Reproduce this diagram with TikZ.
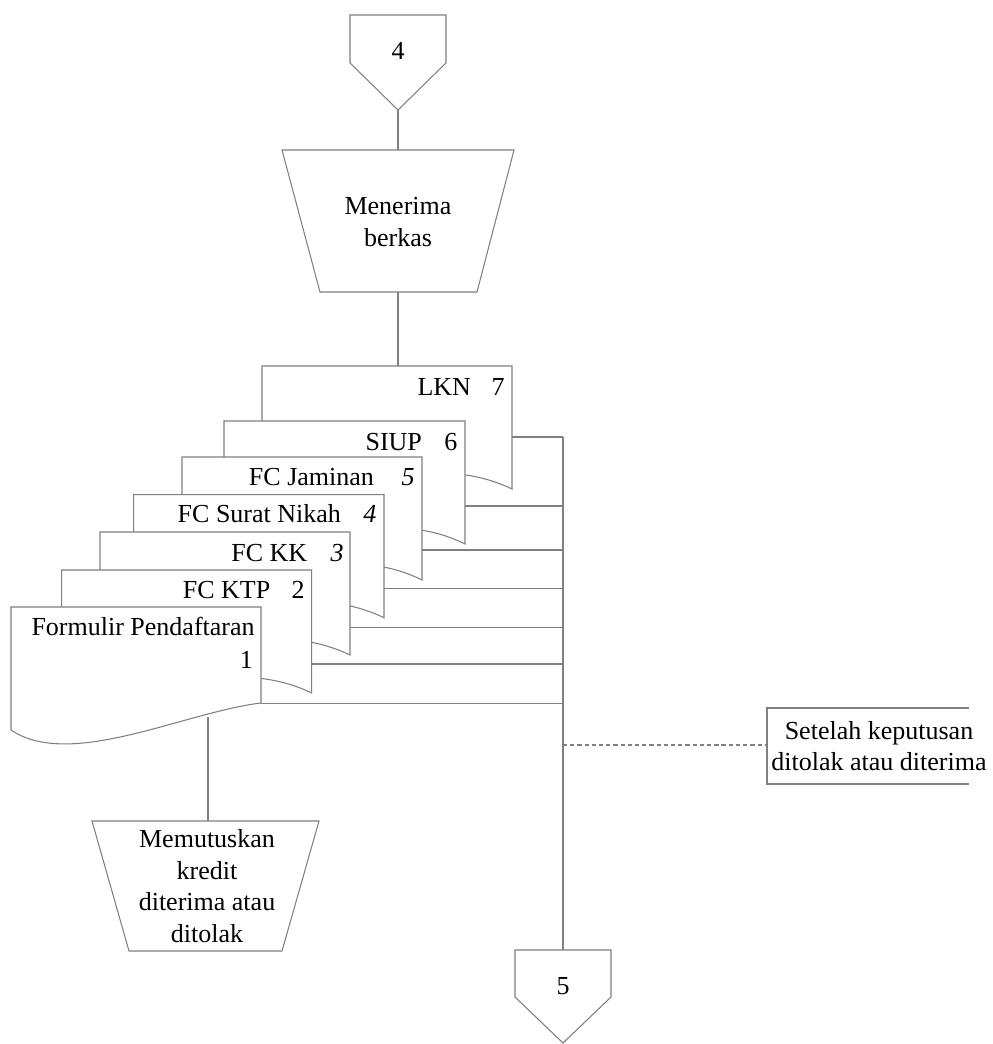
\documentclass[tikz,border=0pt]{standalone}
\usepackage{fontspec}
\setmainfont{Liberation Serif}
\usetikzlibrary{calc}
\definecolor{linegray}{RGB}{128,128,128}
% stacked document sheet: left x, top y, right x (bottom edge is a wave)
\newcommand\docsheet[3]{%
  \draw[sheet] (#1,#2) -- (#3,#2) -- (#3,#2+123)
    .. controls (#1+0.64*#3-0.64*#1,#2+80) and (#1+0.35*#3-0.35*#1,#2+143) ..
    (#1,#2+113) -- cycle;}
\begin{document}
\begin{tikzpicture}[x=0.02cm,y=-0.02cm,
  line/.style={draw=linegray,line width=0.6pt},
  sheet/.style={line,fill=white,line join=miter},
  txt/.style={font=\fontsize{14.8}{17.9}\selectfont,inner sep=0pt,text=black},
  notedash/.style={line,dash pattern=on 2.4pt off 1.7pt}]
\useasboundingbox (0,0) rectangle (992,1044);

% off-page connector 4
\draw[sheet] (350,15) -- (446,15) -- (446,63) -- (398,110) -- (350,63) -- cycle;
\node[txt] (c4) at (398,51) {4};
\coordinate (c4-bot) at (398,110);

% manual operation: receive files
\draw[sheet] (282,150) -- (514,150) -- (477,292) -- (320,292) -- cycle;
\node[txt,align=center] (op1) at (398,222) {Menerima\\berkas};
\coordinate (op1-top) at (398,150);
\coordinate (op1-bot) at (398,292);

% stacked documents, back to front
\docsheet{262}{366}{512}
\docsheet{224}{421}{465}
\docsheet{182}{457}{422}
\docsheet{133.7}{494.7}{384}
\docsheet{100}{532}{350}
\docsheet{61.7}{570}{311.7}
\draw[sheet] (11,607) -- (261,607) -- (261,703)
  .. controls (185,712) and (70,770) .. (11,730) -- cycle;

\coordinate (lkn-top) at (398,366);

% document labels
\node[txt,anchor=base east] (n7) at (505,395.7) {7};
\node[txt,anchor=base east] (t7) at ($(n7.base west)+(-20,0)$) {LKN};
\node[txt,anchor=base east] (n6) at (457.7,450) {6};
\node[txt,anchor=base east] (t6) at ($(n6.base west)+(-21.7,0)$) {SIUP};
\node[txt,anchor=base east] (n5) at (415,485) {\itshape 5};
\node[txt,anchor=base east] (t5) at ($(n5.base west)+(-27,0)$) {FC Jaminan};
\node[txt,anchor=base east] (n4) at (376.7,522.7) {\itshape 4};
\node[txt,anchor=base east] (t4) at ($(n4.base west)+(-21.7,0)$) {FC Surat Nikah};
\node[txt,anchor=base east] (n3) at (344,561) {\itshape 3};
\node[txt,anchor=base east] (t3) at ($(n3.base west)+(-22.7,0)$) {FC KK};
\node[txt,anchor=base east] (n2) at (305,598.3) {2};
\node[txt,anchor=base east] (t2) at ($(n2.base west)+(-20.7,0)$) {FC KTP};
\node[txt,anchor=base east] (t1) at (255,635.7) {Formulir Pendaftaran};
\node[txt,anchor=base east] (n1) at (253.3,668.3) {1};

% connection points on the documents
\coordinate (lkn-out) at (512,437);
\coordinate (siup-out) at (465,506);
\coordinate (jam-out) at (422,550);
\coordinate (nikah-out) at (384,588.7);
\coordinate (kk-out) at (350,627.7);
\coordinate (ktp-out) at (311.7,664);
\coordinate (form-out) at (261,703.5);
\coordinate (form-down) at (208,717);

% manual operation: decide credit
\draw[sheet] (92,821) -- (319,821) -- (282,951) -- (129,951) -- cycle;
\node[txt,align=center] (op2) at (207,886)
  {Memutuskan\\kredit\\diterima atau\\ditolak};
\coordinate (op2-top) at (208,821);

% off-page connector 5
\draw[sheet] (515,950) -- (611,950) -- (611,997) -- (563,1043) -- (515,997) -- cycle;
\node[txt] (c5) at (563,986) {5};
\coordinate (c5-top) at (563,950);

% annotation
\draw[line] (969,708) -- (767,708) -- (767,784) -- (969,784);
\node[txt,align=center] (note) at (879,746) {Setelah keputusan\\ditolak atau diterima};
\coordinate (note-in) at (767,745);

% connectors
\coordinate (bus-top) at (563,437);
\draw[line] (c4-bot) -- (op1-top);
\draw[line] (op1-bot) -- (lkn-top);
\draw[line] (lkn-out) -- (bus-top);
\foreach \p in {siup-out,jam-out,nikah-out,kk-out,ktp-out,form-out}
  \draw[line] (\p) -- (\p -| bus-top);
\draw[line] (bus-top) -- (c5-top);
\draw[line] (form-down) -- (op2-top);
\draw[notedash] (note-in -| bus-top) -- (note-in);
\end{tikzpicture}
\end{document}
